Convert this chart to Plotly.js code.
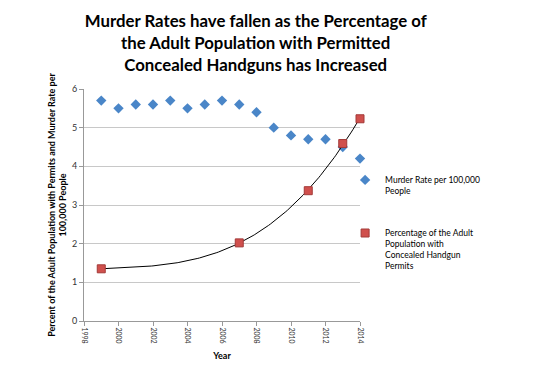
<!DOCTYPE html>
<html>
<head>
<meta charset="utf-8">
<script src="https://cdn.plot.ly/plotly-3.0.1.min.js"></script>
<style>html,body{margin:0;padding:0;background:#fff;}#chart{width:535px;height:370px;}</style>
</head>
<body>
<div id="chart"></div>
<script>
// Data
const murderYears = [1999,2000,2001,2002,2003,2004,2005,2006,2007,2008,2009,2010,2011,2012,2013,2014];
const murderRate  = [5.7,5.5,5.6,5.6,5.7,5.5,5.6,5.7,5.6,5.4,5.0,4.8,4.7,4.7,4.5,4.2];
const permitYears = [1999,2007,2011,2013,2014];
const permitPct   = [1.35,2.02,3.37,4.59,5.23];
const xTickVals   = [1998,2000,2002,2004,2006,2008,2010,2012,2014];

// Polynomial (order 3) least-squares trendline, as in the spreadsheet chart
function polyFit(xs, ys, order) {
  const x0 = xs[0];
  const n = order + 1;
  const A = Array.from({length:n},()=>Array(n+1).fill(0));
  for (let k=0;k<xs.length;k++){
    const t = xs[k]-x0;
    for (let i=0;i<n;i++){
      for (let j=0;j<n;j++) A[i][j] += Math.pow(t,i+j);
      A[i][n] += ys[k]*Math.pow(t,i);
    }
  }
  for (let i=0;i<n;i++){
    let p=i; for (let r=i+1;r<n;r++) if (Math.abs(A[r][i])>Math.abs(A[p][i])) p=r;
    [A[i],A[p]]=[A[p],A[i]];
    for (let r=0;r<n;r++){ if(r===i) continue; const f=A[r][i]/A[i][i]; for(let c=i;c<=n;c++) A[r][c]-=f*A[i][c]; }
  }
  const coef = A.map((row,i)=>row[n]/row[i]);
  return x => { const t=x-x0; let s=0; for(let i=0;i<n;i++) s+=coef[i]*Math.pow(t,i); return s; };
}
const fit = polyFit(permitYears, permitPct, 3);
const trendX = [], trendY = [];
for (let x = permitYears[0]; x <= permitYears[permitYears.length-1] + 1e-9; x += 0.1) { trendX.push(x); trendY.push(fit(x)); }

const font = "Lato, 'Open Sans', sans-serif";

const data = [
  {x: murderYears, y: murderRate, type:'scatter', mode:'markers', legendgroup:'a', cliponaxis:false,
   name:'Murder Rate per 100,000<br>People',
   marker:{symbol:'diamond', size:8, color:'#4A86C8'}},
  {x: trendX, y: trendY, type:'scatter', mode:'lines', showlegend:false, hoverinfo:'skip', cliponaxis:false,
   line:{color:'#000', width:1}},
  {x: permitYears, y: permitPct, type:'scatter', mode:'markers', legendgroup:'b', cliponaxis:false,
   name:'Percentage of the Adult<br>Population with<br>Concealed Handgun<br>Permits',
   marker:{symbol:'square', size:8, color:'#D0504D', line:{color:'#A33A38', width:1}}}
];

const layout = {
  width:535, height:370,
  margin:{l:84, r:175, t:89, b:49},
  paper_bgcolor:'#fff', plot_bgcolor:'#fff',
  font:{family:font, color:'#000'},
  title:{text:'<b>Murder Rates have fallen as the Percentage of<br>the Adult Population with Permitted<br>Concealed Handguns has Increased</b>',
         font:{size:16.8, family:font, color:'#000'}, x:0.478, xanchor:'center', y:0.927, yanchor:'bottom', xref:'container', yref:'container'},
  xaxis:{range:[1998,2014], tickvals:xTickVals, ticktext:xTickVals.map(String), tickangle:90,
         tickfont:{size:7, color:'#333'}, showgrid:false, zeroline:false,
         showline:true, linecolor:'#999', linewidth:1, ticks:'outside', ticklen:4, tickcolor:'#999',
         title:{text:'<b>Year</b>', font:{size:9}, standoff:10}},
  yaxis:{range:[0,6], dtick:1, tickfont:{size:9, color:'#333'}, showgrid:true, gridcolor:'#c8c8c8',
         zeroline:false, showline:true, linecolor:'#999', linewidth:1, ticks:'outside', ticklen:4, tickcolor:'#999',
         title:{text:'<b>Percent of the Adult Population with Permits and Murder Rate per<br>100,000 People</b>', font:{size:9}, standoff:3}},
  legend:{x:0.946, xanchor:'left', y:0.66, yanchor:'top', font:{size:8.5}, tracegroupgap:28, valign:'top',
          bgcolor:'rgba(0,0,0,0)', itemwidth:30, traceorder:'grouped'},
  showlegend:true
};

Plotly.newPlot('chart', data, layout, {displayModeBar:false, staticPlot:true});
</script>
</body>
</html>
